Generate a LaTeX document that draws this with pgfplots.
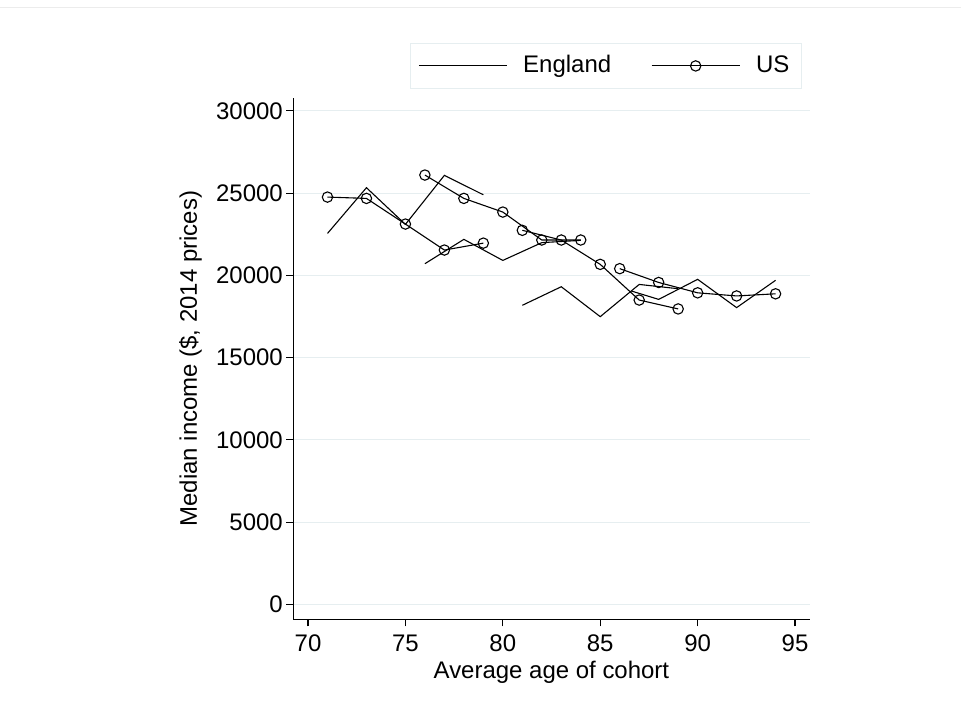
\documentclass[border=0pt]{standalone}
\usepackage{fontspec}
\setmainfont{Liberation Sans}
\usepackage{pgfplots}
\pgfplotsset{compat=1.18}
\definecolor{gridc}{RGB}{230,238,240}
\definecolor{frame}{RGB}{236,236,236}
\begin{document}
\fontsize{12}{14}\selectfont
\begin{tikzpicture}
\path (0pt,0pt) rectangle (480.5pt,356.5pt);
\draw[color=frame, line width=0.5pt] (0pt,352.5pt) -- (480.5pt,352.5pt);
\begin{axis}[
  at={(146.5pt,46.5pt)}, anchor=south west,
  scale only axis, width=258.5pt, height=261pt,
  xmin=69.24, xmax=95.75, ymin=-912, ymax=30790,
  axis x line*=bottom, axis y line*=left,
  axis line style={line width=0.6pt, black},
  xtick={70,75,...,95}, ytick={0,5000,...,30000},
  tick align=outside, major tick length=3.5pt,
  tick style={line width=0.6pt, black},
  ymajorgrids, grid style={color=gridc, line width=0.6pt},
  /pgf/number format/assume math mode=true,
  /pgf/number format/1000 sep={},
  scaled y ticks=false,
  tick label style={font=\fontsize{12}{14}\selectfont},
  yticklabel style={xshift=2.5pt},
  label style={font=\fontsize{12}{14}\selectfont},
  xlabel={Average age of cohort},
  xlabel style={yshift=3.5pt},
  ylabel={Median income (\$, 2014 prices)},
  ylabel style={yshift=-1pt},
  legend columns=2,
  legend style={at={(0.6054,1.0613)}, anchor=center, draw=gridc, line width=0.6pt,
    fill=white, font=\fontsize{12}{14}\selectfont,
    /tikz/every odd column/.append style={column sep=6pt},
    /tikz/every even column/.append style={column sep=18pt},
    inner xsep=4pt, inner ysep=4pt},
  legend image code/.code={\draw[mark repeat=2,mark phase=2,#1] plot coordinates {(0pt,0pt) (22pt,0pt) (44pt,0pt)};},
  clip=false,
]
% England cohorts
\addplot[black, line width=0.55pt, no marks] coordinates {(71,22550) (73,25330) (75,23100) (77,26080) (79,24900)};
\addlegendentry{England}
% US cohorts
\addplot[black, line width=0.55pt, mark=o, mark size=2.6pt, mark options={solid, line width=0.55pt}] coordinates {(71,24760) (73,24680) (75,23120) (77,21540) (79,21960)};
\addlegendentry{US}
\addplot[black, line width=0.55pt, no marks, forget plot] coordinates {(76,20710) (78,22190) (80,20910) (82,21990) (84,22130)};
\addplot[black, line width=0.55pt, no marks, forget plot] coordinates {(81,18180) (83,19310) (85,17490) (87,19450) (89,19190)};
\addplot[black, line width=0.55pt, no marks, forget plot] coordinates {(86.6,19050) (88,18540) (90,19760) (92,18040) (94,19700)};
\addplot[black, line width=0.55pt, mark=o, mark size=2.6pt, mark options={solid, line width=0.55pt}, forget plot] coordinates {(76,26100) (78,24680) (80,23850) (82,22150) (84,22150)};
\addplot[black, line width=0.55pt, mark=o, mark size=2.6pt, mark options={solid, line width=0.55pt}, forget plot] coordinates {(81,22740) (83,22150) (85,20670) (87,18500) (89,17960)};
\addplot[black, line width=0.55pt, mark=o, mark size=2.6pt, mark options={solid, line width=0.55pt}, forget plot] coordinates {(86,20410) (88,19570) (90,18940) (92,18750) (94,18880)};
\end{axis}
\end{tikzpicture}
\end{document}
